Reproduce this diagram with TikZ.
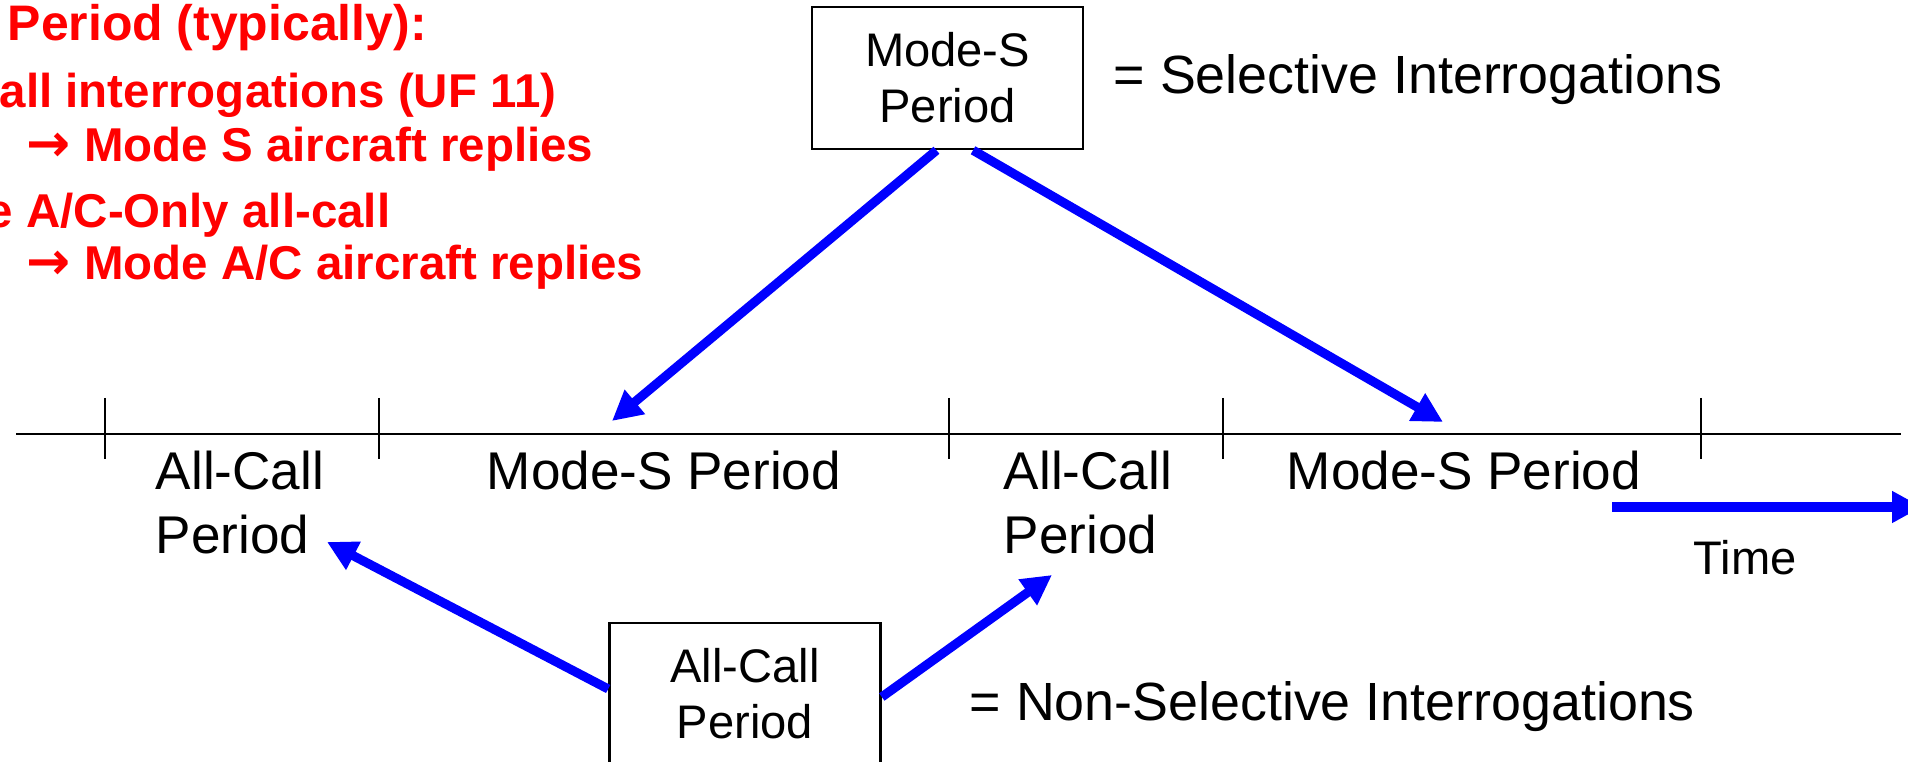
\documentclass[tikz,border=0pt]{standalone}
\usepackage{fontspec}
\setmainfont{Liberation Sans}
\newfontfamily\arrowfont{DejaVu Sans}
\usetikzlibrary{arrows.meta}

\newcommand\replyarrow{{\arrowfont\fontsize{15pt}{16pt}\selectfont →}}

\begin{document}
\begin{tikzpicture}[x=0.01cm, y=-0.01cm,
    modebox/.style={draw, line width=0.7pt, minimum width=2.71cm, minimum height=1.42cm,
        inner sep=0pt, align=center, font=\fontsize{13.4pt}{15.9pt}\selectfont},
    period/.style={anchor=north, inner sep=0pt, align=left, font=\fontsize{15.1pt}{18.2pt}\selectfont},
    note/.style={anchor=base west, inner sep=0pt, font=\fontsize{15.3pt}{18pt}\selectfont},
    redline/.style={anchor=base west, inner sep=0pt, text=red, font=\fontsize{13.5pt}{16pt}\selectfont\bfseries},
    pointer/.style={line width=2.6pt, blue, -{Triangle[length=8.5pt, width=8.5pt]}}]

    \useasboundingbox (0,0) rectangle (1908,762);

    % red notes, top left
    \node[redline, font=\fontsize{14.2pt}{16pt}\selectfont\bfseries] (r1) at (7,41) {Period (typically):};
    \node[redline] (r2) at (-1,108) {all interrogations (UF 11)};
    \node[redline] (r3) at (26,162) {\replyarrow{} Mode S aircraft replies};
    \node[redline] (r4) at (-14,228) {e A/C-Only all-call};
    \node[redline] (r5) at (26,280) {\replyarrow{} Mode A/C aircraft replies};

    % time axis
    \draw[line width=0.6pt] (16,434) -- (1901,434);
    \foreach \t in {105,379,949,1223,1701}
        \draw[line width=0.6pt] (\t,398) -- (\t,459);

    \node[period] (ac1) at (240,450) {All-Call\\Period};
    \node[period] (ms1) at (664,450) {Mode-S Period};
    \node[period] (ac2) at (1088,450) {All-Call\\Period};
    \node[period] (ms2) at (1464,450) {Mode-S Period};

    % legend boxes
    \node[modebox] (msbox) at (947.5,78) {Mode-S\\Period};
    \node[note] (seltxt) at (1113,94) {= Selective Interrogations};
    \node[modebox] (acbox) at (745,694) {All-Call\\Period};
    \node[note] (nseltxt) at (969,721) {= Non-Selective Interrogations};

    \coordinate (ms1tip) at (612,421);
    \coordinate (ms2tip) at (1443,422);
    \coordinate (ac1tip) at (327,542);
    \coordinate (ac2tip) at (1052,575);

    \draw[pointer] ([xshift=-0.11cm]msbox.south) -- (ms1tip);
    \draw[pointer] ([xshift=0.255cm]msbox.south) -- (ms2tip);
    \draw[pointer] ([yshift=0.05cm]acbox.west) -- (ac1tip);
    \draw[pointer] ([yshift=-0.03cm]acbox.east) -- (ac2tip);

    % time arrow
    \coordinate (tstart) at (1612,507);
    \coordinate (tend) at (1922,507);
    \draw[pointer] (tstart) -- (tend);
    \node[anchor=north, inner sep=0pt, font=\fontsize{13.4pt}{16pt}\selectfont] (timelbl) at (1745,540) {Time};

\end{tikzpicture}
\end{document}
